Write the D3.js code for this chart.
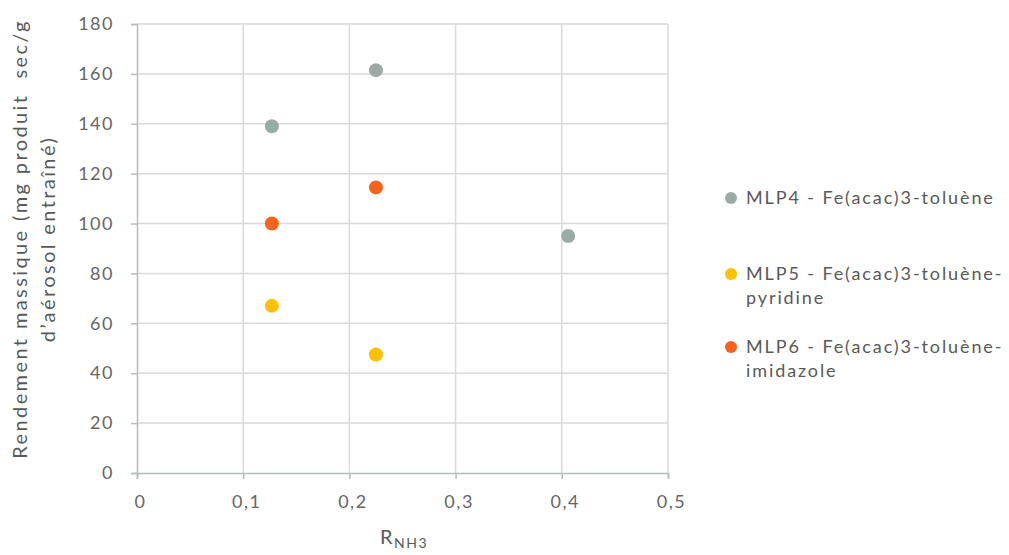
<!DOCTYPE html>
<html><head><meta charset="utf-8">
<script src="https://cdn.jsdelivr.net/npm/d3@7"></script>
<style>body{margin:0;background:#fff;} svg{display:block;} text{font-family:Lato,"Open Sans",sans-serif;fill:#595959;white-space:pre;}</style>
</head><body><svg id="c" width="1009" height="555"></svg>
<script>
const seriesNames = ["MLP4 - Fe(acac)3-toluène", "MLP5 - Fe(acac)3-toluène-pyridine", "MLP6 - Fe(acac)3-toluène-imidazole"];
const legendLines = [["MLP4 - Fe(acac)3-toluène"], ["MLP5 - Fe(acac)3-toluène-", "pyridine"], ["MLP6 - Fe(acac)3-toluène-", "imidazole"]];
const seriesColors = ["#9aaba5", "#ffc000", "#f4621c"];
const mlp4X = [0.127, 0.225, 0.406];
const mlp4Y = [139, 161.5, 95];
const mlp5X = [0.127, 0.225];
const mlp5Y = [67, 47.5];
const mlp6X = [0.127, 0.225];
const mlp6Y = [100, 114.5];
const xTicks = [0, 0.1, 0.2, 0.3, 0.4, 0.5];
const yTicks = [0, 20, 40, 60, 80, 100, 120, 140, 160, 180];

const svg = d3.select("#c");
const x = d3.scaleLinear().domain([0, 0.5]).range([137, 668]);
const y = d3.scaleLinear().domain([0, 180]).range([473, 24]);

// gridlines
svg.append("g").selectAll("line.h").data(yTicks.slice(1)).join("line")
  .attr("x1", 137).attr("x2", 668).attr("y1", d => y(d)).attr("y2", d => y(d))
  .attr("stroke", "#d9d9d9").attr("stroke-width", 1.5);
svg.append("g").selectAll("line.v").data(xTicks.slice(1)).join("line")
  .attr("y1", 24).attr("y2", 473).attr("x1", d => x(d)).attr("x2", d => x(d))
  .attr("stroke", "#d9d9d9").attr("stroke-width", 1.5);

const fmt = d => String(d).replace(".", ",");
const ax = svg.append("g").attr("transform", "translate(0,473)")
  .call(d3.axisBottom(x).tickValues(xTicks).tickFormat(fmt).tickSize(6).tickPadding(16));
const ay = svg.append("g").attr("transform", "translate(137,0)")
  .call(d3.axisLeft(y).tickValues(yTicks).tickSize(6).tickPadding(17));
[ax, ay].forEach(g => {
  g.selectAll("path,line").attr("stroke", "#b4bcbc").attr("stroke-width", 1.5);
  g.selectAll("text").style("font-size", "18px").style("letter-spacing", "1.5px").style("fill", "#666666");
});
ax.selectAll("text").attr("dx", "3");

const allSeries = [[mlp4X, mlp4Y], [mlp5X, mlp5Y], [mlp6X, mlp6Y]];
allSeries.forEach(([xs, ys], i) => {
  svg.append("g").selectAll("circle").data(xs.map((v, j) => [v, ys[j]])).join("circle")
    .attr("cx", d => x(d[0])).attr("cy", d => y(d[1])).attr("r", 7)
    .attr("fill", seriesColors[i]);
});

// legend
const legY = [198, 274, 347];
legendLines.forEach((lines, i) => {
  svg.append("circle").attr("cx", 731).attr("cy", legY[i]).attr("r", 6).attr("fill", seriesColors[i]);
  lines.forEach((t, k) => {
    svg.append("text").attr("x", 746).attr("y", legY[i] + 6 + k * 24)
      .style("font-size", "18px").style("letter-spacing", "1.9px").text(t);
  });
});

// axis titles
const yt = svg.append("text").attr("transform", "translate(0,239) rotate(-90)").attr("text-anchor", "middle")
  .style("font-size", "20px").style("letter-spacing", "2.4px");
yt.append("tspan").attr("x", 0).attr("y", 27).text("Rendement massique (mg produit  sec/g");
yt.append("tspan").attr("x", 0).attr("y", 55).text("d\u2019aérosol entraîné)");

const xt = svg.append("text").attr("x", 404).attr("y", 544).attr("text-anchor", "middle").style("font-size", "20px").style("letter-spacing", "1.5px");
xt.append("tspan").text("R");
xt.append("tspan").attr("dy", 4).style("font-size", "14px").text("NH3");
</script></body></html>
